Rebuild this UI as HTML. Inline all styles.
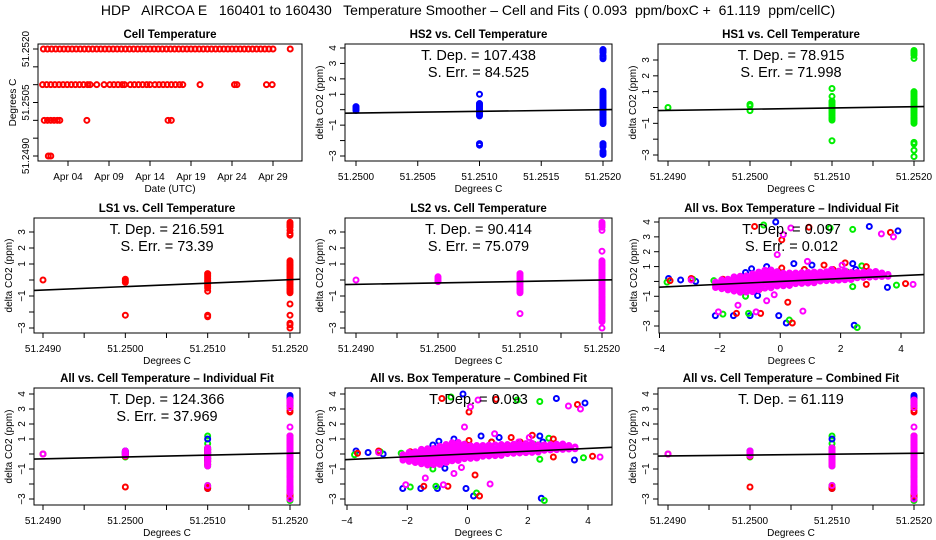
<!DOCTYPE html>
<html><head><meta charset="utf-8"><style>
html,body{margin:0;padding:0;background:#fff;}
svg{display:block;font-family:"Liberation Sans",sans-serif;}
</style></head><body>
<svg id="chart" width="936" height="540" viewBox="0 0 936 540" xmlns="http://www.w3.org/2000/svg">
<rect x="0" y="0" width="936" height="540" fill="#fff"/>
<text x="468" y="15" font-size="14" text-anchor="middle" xml:space="preserve">HDP   AIRCOA E   160401 to 160430   Temperature Smoother – Cell and Fits ( 0.093  ppm/boxC +  61.119  ppm/cellC)</text>
</svg>
<script>
// ---------- DATA ----------
const cellDays2520 = [1.0,1.5,2.0,2.5,3.0,3.5,4.0,4.5,5.0,5.5,6.0,6.5,7.0,7.5,8.0,8.5,9.0,9.5,10.0,10.5,11.0,11.5,12.0,12.5,13.0,13.5,14.0,14.5,15.0,15.5,16.0,16.5,17.0,17.5,18.0,18.5,19.0,19.5,20.0,20.5,21.0,21.5,22.0,22.5,23.0,23.5,24.0,24.5,25.0,25.5,26.0,26.5,27.0,27.5,28.0,28.5,29.0,31.1];
const cellDays2510 = [0.9,1.4,1.9,2.4,2.9,3.4,3.9,4.4,4.9,5.4,5.9,6.4,6.7,7.5,8.4,9.1,9.6,10.1,10.6,10.9,11.6,12.1,12.6,13.1,13.6,14.0,14.6,15.1,15.6,16.1,16.6,17.1,17.6,18.0,20.1,24.3,24.6,28.2,28.9];
const cellDays2500 = [1.1,1.5,1.9,2.3,2.7,3.0,6.3,16.2,16.6];
const cellDays2490 = [1.6,1.9];
const cellLevels = [51.2520,51.2510,51.2500,51.2490];
const dateTicks = [4,9,14,19,24,29];
const dateLabels = ["Apr 04","Apr 09","Apr 14","Apr 19","Apr 24","Apr 29"];

const hs2Cols = [51.2500,51.2510,51.2520];
const hs2Vals = [
 [0.2,0.15,0.1,0.05,0.0,-0.05],
 [1.0,0.4,0.3,0.2,0.1,0.0,-0.1,-0.2,-0.3,-0.4,-2.2,-2.3],
 [3.9,3.8,3.7,3.5,3.4,3.3,1.2,1.1,1.0,0.9,0.8,0.7,0.6,0.5,0.4,0.3,0.2,0.1,0.0,-0.1,-0.2,-0.3,-0.4,-0.5,-0.6,-0.7,-0.8,-0.9,-2.2,-2.3,-2.4,-2.7,-2.8,-2.9]];
const hs1Cols = [51.2490,51.2500,51.2510,51.2520];
const hs1Vals = [
 [0.0],
 [0.2,0.1,-0.2],
 [1.2,0.7,0.4,0.3,0.2,0.1,0.0,-0.1,-0.2,-0.3,-0.4,-0.5,-0.6,-0.7,-0.8,-2.1],
 [3.6,3.5,3.4,3.3,3.1,1.0,0.9,0.8,0.7,0.6,0.5,0.4,0.3,0.2,0.1,0.0,-0.1,-0.2,-0.3,-0.4,-0.5,-0.6,-0.7,-0.8,-0.9,-1.0,-2.2,-2.3,-2.7,-3.1]];
const ls1Cols = [51.2490,51.2500,51.2510,51.2520];
const ls1Vals = [
 [0.0],
 [0.05,-0.05,-0.15,-2.2],
 [0.4,0.3,0.2,0.1,0.0,-0.1,-0.2,-0.3,-0.4,-0.5,-0.7,-2.2,-2.3],
 [3.6,3.5,3.4,3.3,3.1,2.9,2.8,1.2,1.1,1.0,0.9,0.8,0.7,0.6,0.5,0.4,0.3,0.2,0.1,0.0,-0.1,-0.2,-0.3,-0.4,-0.5,-0.6,-0.7,-0.8,-1.5,-2.2,-2.7,-2.8,-3.0]];
const ls2Cols = [51.2490,51.2500,51.2510,51.2520];
const ls2Vals = [
 [0.0],
 [0.2,0.1,0.0,-0.1],
 [0.4,0.3,0.2,0.1,0.0,-0.1,-0.2,-0.3,-0.4,-0.5,-0.6,-0.7,-0.8,-2.1],
 [3.6,3.5,3.4,3.3,3.1,1.8,1.2,1.1,1.0,0.9,0.8,0.7,0.6,0.5,0.4,0.3,0.2,0.1,0.0,-0.1,-0.2,-0.3,-0.4,-0.5,-0.6,-0.7,-0.8,-0.9,-1.0,-1.1,-1.2,-1.3,-1.4,-1.5,-1.6,-1.7,-1.8,-1.9,-2.0,-2.1,-2.2,-2.3,-2.4,-2.5,-2.6,-3.0]];

const blueBX = [-3.7,-2.8,-3.3,-1.8,-1.15,-0.95,-0.75,-0.45,-0.15,0.45,-0.05,0.2,1.05,2.4,2.5,2.95,3.55,3.9,2.45,-2.15,-1.55,-1.0];
const blueBY = [0.2,0.0,0.1,-0.4,0.6,0.85,-0.95,1.0,4.0,1.2,-2.3,-2.8,1.1,1.2,0.8,3.7,-0.4,3.4,-2.95,-2.3,-2.3,-2.3];
const greenBX = [-3.75,-2.9,-2.2,-1.9,-1.05,-1.15,-0.55,-0.1,0.3,0.8,1.65,2.2,2.4,2.7,2.55,3.85,0.95,2.4];
const greenBY = [-0.05,0.15,0.05,-2.2,-2.15,-1.0,3.8,0.65,-2.6,0.8,3.6,0.65,3.5,1.05,-3.1,-0.25,0.0,-0.35];
const redBX = [-3.65,-2.95,-1.45,-0.65,-0.85,0.05,0.05,0.25,0.4,0.95,1.45,2.15,2.85,2.85,3.65,4.15,0.8,-0.7,-1.9,1.75];
const redBY = [0.05,0.2,-2.15,-2.15,3.7,0.9,2.8,-1.4,-2.8,3.65,1.1,1.25,1.0,-0.2,3.3,-0.15,0.8,-0.55,0.15,0.8];
const magBX = [-2.95,-2.05,-1.4,-0.8,-0.45,-0.1,0.1,0.35,0.75,0.9,1.7,2.05,3.35,3.75,4.4,-0.2];
const magBY = [0.1,-2.05,-1.6,-2.05,-1.3,1.8,3.15,3.6,-2.0,1.35,0.8,1.1,3.2,3.0,-0.2,-0.9];
const bandX  = [-2.1,-1.9,-1.7,-1.5,-1.3,-1.1,-0.9,-0.7,-0.5,-0.3,-0.1,0.1,0.3,0.5,0.7,0.9,1.1,1.3,1.5,1.7,1.9,2.1,2.3,2.5,2.7,2.9,3.1,3.3,3.5];
const bandLo = [-0.2,-0.3,-0.4,-0.5,-0.6,-0.6,-0.6,-0.5,-0.4,-0.4,-0.3,-0.3,-0.3,-0.2,-0.2,-0.2,-0.2,-0.1,-0.1,-0.1,-0.1,-0.1,-0.1,0.0,0.0,0.0,0.0,0.0,0.0];
const bandHi = [0.2,0.3,0.4,0.5,0.5,0.5,0.6,0.7,0.8,0.8,0.7,0.6,0.6,0.6,0.6,0.6,0.6,0.5,0.5,0.5,0.5,0.5,0.4,0.4,0.4,0.4,0.4,0.3,0.2];

const fitSlopes = [107.438,78.915,216.591,90.414,0.097,124.366,0.093,61.119];
const fitIntercepts = [0.0,0.05,0.02,0.0,0.0,0.05,0.0,0.05];
const fitRefs = [51.2520,51.2520,51.2520,51.2520,0,51.2520,0,51.2520];
const depLabels = ["107.438","78.915","216.591","90.414","0.097","124.366","0.093","61.119"];
const errLabels = ["84.525","71.998","73.39","75.079","0.012","37.969",null,null];

// ---------- DRAWING ----------
const NS="http://www.w3.org/2000/svg";
const svg=document.getElementById('chart');
function mk(tag,attrs,parent){const e=document.createElementNS(NS,tag);for(const k in attrs)e.setAttribute(k,attrs[k]);(parent||svg).appendChild(e);return e;}
function lin(v0,p0,v1,p1){return v=>p0+(v-v0)*(p1-p0)/(v1-v0);}
const COL={blue:"#0000ff",green:"#00ee00",red:"#ff0000",mag:"#ff00ff"};

function panel(name,box,sx,sy,title,yTicks,yLabels,xTicks,xLabels,xTitle,yTitle){
  const g=mk('g',{});
  
  
  const [l,t,r,b]=box;
  const cx=(l+r)/2;
  const tt=mk('text',{x:cx,y:t-6,'font-size':11.5,'font-weight':'bold','text-anchor':'middle'},g);tt.textContent=title;
  
  
  const fr=mk('rect',{x:l,y:t,width:r-l,height:b-t,fill:'none',stroke:'#000','stroke-width':1},g);
  
  
  const ya=mk('g',{},g);
  
  
  yTicks.forEach((v,i)=>{const y=sy(v);mk('line',{x1:l-5,x2:l,y1:y,y2:y,stroke:'#000'},ya);
    if(yLabels[i]!==''){const tx=mk('text',{x:l-9,y:y,'font-size':10,'text-anchor':'middle',transform:`rotate(-90 ${l-9} ${y})`},ya);tx.textContent=yLabels[i];
      
      }});
  const xa=mk('g',{},g);
  
  
  xTicks.forEach((v,i)=>{const x=sx(v);mk('line',{x1:x,x2:x,y1:b,y2:b+5,stroke:'#000'},xa);
    if(xLabels[i]!==''){const tx=mk('text',{x:x,y:b+19,'font-size':10,'text-anchor':'middle'},xa);tx.textContent=xLabels[i];
      
      }});
  const xt=mk('text',{x:cx,y:b+31,'font-size':10,'text-anchor':'middle'},g);xt.textContent=xTitle;
  
  
  const ym=(t+b)/2;
  const yt=mk('text',{x:l-22,y:ym,'font-size':10,'text-anchor':'middle',transform:`rotate(-90 ${l-22} ${ym})`},g);yt.textContent=yTitle;
  
  
  const cid='clip'+name;
  const cp=mk('clipPath',{id:cid},g);mk('rect',{x:l,y:t,width:r-l,height:b-t},cp);
  const pg=mk('g',{'clip-path':`url(#${cid})`},g);
  
  
  return {g,pg,box,sx,sy,cx};
}
function pt(P,x,y,color){const c=mk('circle',{cx:P.sx(x),cy:P.sy(y),r:2.5,fill:'none',stroke:color,'stroke-width':2},P.pg);
  
  }
function cols(P,cs,vs,color){cs.forEach((c,i)=>vs[i].forEach(v=>pt(P,c,v,color)));}
function fit(P,k){const [l,t,r,b]=P.box;const xl=P.sx.inv(l),xr=P.sx.inv(r);
  const f=x=>fitIntercepts[k]+fitSlopes[k]*(x-fitRefs[k]);
  const ln=mk('line',{x1:l,x2:r,y1:P.sy(f(xl)),y2:P.sy(f(xr)),stroke:'#000','stroke-width':1.6},P.pg);
  
  }
function ann(P,k){const t=P.box[1];
  const a=mk('text',{x:P.cx,y:t+16,'font-size':14.5,'text-anchor':'middle'},P.g);a.textContent='T. Dep. =  '+depLabels[k];
  
  
  if(errLabels[k]){const e=mk('text',{x:P.cx,y:t+33,'font-size':14.5,'text-anchor':'middle'},P.g);e.textContent='S. Err. =  '+errLabels[k];
    
    }}
function mkx(v0,p0,v1,p1){const f=lin(v0,p0,v1,p1);f.inv=lin(p0,v0,p1,v1);return f;}

const cellTicksFine=[51.2490,51.2495,51.2500,51.2505,51.2510,51.2515,51.2520];
const cellLabFine=['51.2490','','51.2500','','51.2510','','51.2520'];
const hs2Ticks=[51.2500,51.2505,51.2510,51.2515,51.2520];
const hs2Lab=['51.2500','51.2505','51.2510','51.2515','51.2520'];
const y4=[-3,-2,-1,0,1,2,3,4], y4L=['−3','','−1','','1','2','3','4'];
const y3=[-3,-2,-1,0,1,2,3], y3L=['−3','','−1','','1','2','3'];
const bxT=[-4,-2,0,2,4], bxL=['−4','−2','0','2','4'];
const DC='Degrees C', DY='delta CO2 (ppm)';

// Panel 1
const P1=panel('cell-temperature-panel',[38,44,302,161],mkx(4,68,29,273),mkx(51.2490,156,51.2520,49),'Cell Temperature',
  cellTicksFine,['51.2490','','','51.2505','','','51.2520'],dateTicks,dateLabels,'Date (UTC)','Degrees C');
[cellDays2520,cellDays2510,cellDays2500,cellDays2490].forEach((arr,i)=>arr.forEach(d=>pt(P1,d,cellLevels[i],COL.red)));

// Panel 2
const P2=panel('hs2-panel',[345,44,612,161],mkx(51.2500,356,51.2520,603),mkx(4,48,-3,156),'HS2 vs. Cell Temperature',y4,y4L,hs2Ticks,hs2Lab,DC,DY);
cols(P2,hs2Cols,hs2Vals,COL.blue);fit(P2,0);ann(P2,0);
// Panel 3
const P3=panel('hs1-panel',[658,44,924,161],mkx(51.2490,668,51.2520,914),mkx(3,60,-3,155),'HS1 vs. Cell Temperature',y3,y3L,cellTicksFine,cellLabFine,DC,DY);
cols(P3,hs1Cols,hs1Vals,COL.green);fit(P3,1);ann(P3,1);
// Panel 4
const P4=panel('ls1-panel',[34,218,300,333],mkx(51.2490,43,51.2520,290),mkx(3,232,-3,328),'LS1 vs. Cell Temperature',y3,y3L,cellTicksFine,cellLabFine,DC,DY);
cols(P4,ls1Cols,ls1Vals,COL.red);fit(P4,2);ann(P4,2);
// Panel 5
const P5=panel('ls2-panel',[345,218,612,333],mkx(51.2490,356,51.2520,602),mkx(3,232,-3,328),'LS2 vs. Cell Temperature',y3,y3L,cellTicksFine,cellLabFine,DC,DY);
cols(P5,ls2Cols,ls2Vals,COL.mag);fit(P5,3);ann(P5,3);

function boxScatter(P){
  blueBX.forEach((x,i)=>pt(P,x,blueBY[i],COL.blue));
  greenBX.forEach((x,i)=>pt(P,x,greenBY[i],COL.green));
  redBX.forEach((x,i)=>pt(P,x,redBY[i],COL.red));
  bandX.forEach((x,i)=>{for(let v=bandLo[i];v<=bandHi[i]+1e-9;v+=0.12)pt(P,x+0.02*x,v+0.1*x,COL.mag);});
  magBX.forEach((x,i)=>pt(P,x,magBY[i],COL.mag));
}
// Panel 6
const P6=panel('all-box-individual-panel',[659,218,924,333],mkx(-4,659.5,4,901),mkx(4,222,-3,326),'All vs. Box Temperature – Individual Fit',y4,y4L,bxT,bxL,DC,DY);
ann(P6,4);boxScatter(P6);fit(P6,4);
// Panel 7
const P7=panel('all-cell-individual-panel',[34,388,300,505],mkx(51.2490,43,51.2520,290),mkx(4,394,-3,499),'All vs. Cell Temperature – Individual Fit',y4,y4L,cellTicksFine,cellLabFine,DC,DY);
cols(P7,hs1Cols,hs1Vals,COL.green);cols(P7,hs2Cols,hs2Vals,COL.blue);cols(P7,ls1Cols,ls1Vals,COL.red);cols(P7,ls2Cols,ls2Vals,COL.mag);fit(P7,5);ann(P7,5);
// Panel 8
const P8=panel('all-box-combined-panel',[345,388,612,505],mkx(-4,347,4,588),mkx(4,394,-3,499),'All vs. Box Temperature – Combined Fit',y4,y4L,bxT,bxL,DC,DY);
ann(P8,6);boxScatter(P8);fit(P8,6);
// Panel 9
const P9=panel('all-cell-combined-panel',[658,388,924,505],mkx(51.2490,668,51.2520,914),mkx(4,394,-3,499),'All vs. Cell Temperature – Combined Fit',y4,y4L,cellTicksFine,cellLabFine,DC,DY);
cols(P9,hs1Cols,hs1Vals,COL.green);cols(P9,hs2Cols,hs2Vals,COL.blue);cols(P9,ls1Cols,ls1Vals,COL.red);cols(P9,ls2Cols,ls2Vals,COL.mag);fit(P9,7);ann(P9,7);
</script>
</body></html>
